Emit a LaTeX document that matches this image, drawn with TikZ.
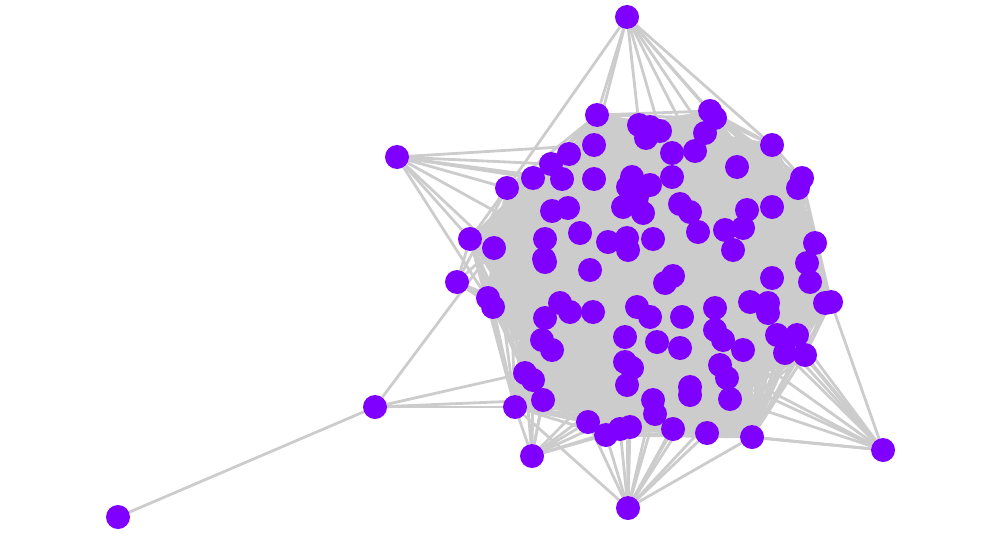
\documentclass[tikz,border=0pt]{standalone}
\usepackage{tikz}
\usetikzlibrary{backgrounds}
\definecolor{vpurple}{RGB}{127,0,255}
\definecolor{edgegray}{RGB}{204,204,204}
\tikzstyle{vertex}=[circle,fill=vpurple,minimum size=24pt,inner sep=0pt]
\tikzstyle{undirectededge} = [draw,edgegray,line width=2.8pt]

\begin{document}
\begin{tikzpicture}[x=1pt,y=-1pt]
    \useasboundingbox (0,0) rectangle (1000,535);

    % dense core
    \foreach \pos [count=\n] in {(597,115),(594,145),(569,154),(551,164),(533,178),(562,179),(507,188),(594,179),
        (639,125),(650,127),(660,131),(646,138),(672,153),(695,151),(705,133),(710,111),(715,118),(772,145),
        (737,167),(632,177),(628,187),(650,185),(672,177),(637,197),(623,207),(643,213),(680,204),(690,212),
        (698,232),(725,230),(743,228),(733,250),(747,210),(772,207),(802,178),(798,188),(552,211),(568,208),
        (580,233),(608,242),(627,238),(628,250),(653,239),(545,239),(545,262),(590,270),(494,248),(470,239),
        (665,283),(673,276),(815,243),(807,263),(810,282),(772,278),(488,298),(493,307),(560,303),(570,312),
        (545,318),(542,340),(552,350),(593,312),(637,307),(650,317),(682,317),(715,308),(750,302),(768,303),
        (768,313),(831,302),(625,337),(657,342),(680,348),(715,330),(723,340),(743,350),(777,335),(797,335),
        (785,353),(805,355),(625,362),(632,368),(627,385),(720,365),(727,378),(690,387),(690,395),(730,399),
        (525,373),(533,380),(543,400),(515,407),(653,400),(655,414),(673,429),(588,422),(606,435),(620,429),
        (630,427),(707,433),(752,437),(825,303),(544,259)}
        \node[vertex] (c\n) at \pos {};

    % outer vertices
    \foreach \pos/ \name in {{(627,17)/ntop},{(397,157)/nleft},{(457,282)/nmid},{(375,407)/nlow},
        {(118,517)/nfar},{(628,508)/nbot},{(532,456)/nbotl},{(883,450)/nright}}
        \node[vertex] (\name) at \pos {};

    \begin{pgfonlayer}{background}
    % every pair of core vertices
    \foreach \i in {2,...,103} {
        \pgfmathtruncatemacro{\k}{\i-1}
        \foreach \j in {1,...,\k}
            \path[undirectededge] (c\i) -- (c\j);
    }

    % edges of the outer vertices
    \foreach \dest in {7,1,2,9,11,14,15,16,17,18}
        \path[undirectededge] (ntop) -- (c\dest);
    \foreach \dest in {2,7,5,4,6,44,47,48,56}
        \path[undirectededge] (nleft) -- (c\dest);
    \foreach \dest in {7,48,47,55,56,59}
        \path[undirectededge] (nmid) -- (c\dest);
    \foreach \dest in {47,89,92,91}
        \path[undirectededge] (nlow) -- (c\dest);
    \path[undirectededge] (nlow) -- (nfar);
    \foreach \dest in {92,91,90,89,61,96,97,98,83,81,93}
        \path[undirectededge] (nbotl) -- (c\dest);
    \foreach \dest in {92,96,97,98,99,83,94,93,95,87,88,100,101,84}
        \path[undirectededge] (nbot) -- (c\dest);
    \foreach \dest in {101,100,88,85,84,76,79,80,78,77,69,70}
        \path[undirectededge] (nright) -- (c\dest);
    \end{pgfonlayer}

\end{tikzpicture}
\end{document}
